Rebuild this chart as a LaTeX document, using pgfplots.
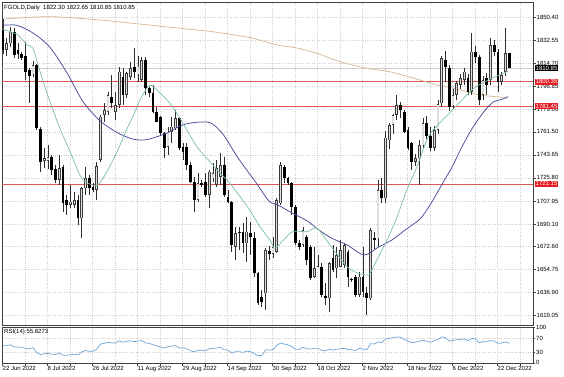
\documentclass[border=0pt]{standalone}
\usepackage{pgfplots}
\pgfplotsset{compat=1.18}
\usepackage{pgfplotstable}
\usepackage{fontspec}
\setmainfont{Liberation Sans}
\setsansfont{Liberation Sans}

\definecolor{bullfill}{RGB}{222,222,222}
\definecolor{bulledge}{RGB}{60,60,60}
\definecolor{wickc}{RGB}{45,45,45}
\definecolor{mafastc}{RGB}{125,190,160}
\definecolor{mamidc}{RGB}{75,75,155}
\definecolor{maslowc}{RGB}{215,185,150}
\definecolor{lvlc}{RGB}{222,85,85}
\definecolor{lvlbox}{RGB}{232,28,36}
\definecolor{gridc}{RGB}{208,208,208}
\definecolor{rsic}{RGB}{110,165,215}
\definecolor{pricec}{RGB}{205,205,205}

\pgfplotstableread{
i O H L C
0 1840 1849 1822 1825
1 1825 1834 1820 1830
2 1830 1843 1827 1839
3 1839 1842 1819 1821
4 1825 1830 1818 1822
5 1821.5 1823.6 1817 1819
6 1820 1831 1802 1808
7 1809 1811 1784 1805
8 1806 1816 1804 1813
9 1813 1814 1763 1764.2
10 1764 1765 1730.6 1738.4
11 1739 1748.7 1733.2 1741
12 1739 1751 1733 1742
13 1742 1743.6 1728 1731.9
14 1733 1735.8 1721.6 1724.2
15 1724.2 1743.6 1720.3 1733.2
16 1734.5 1735.8 1699.7 1706.1
17 1708.7 1712.6 1697.1 1704.8
18 1705 1720.3 1702.2 1707.4
19 1704.8 1715.2 1702.2 1708.7
20 1708.7 1712.6 1689.3 1694.5
21 1694.5 1718.5 1679 1717.7
22 1717.7 1734.5 1712.6 1725.5
23 1725.5 1728 1712.6 1717.7
24 1719 1721.6 1715 1716.4
25 1716.4 1738.4 1708.7 1735
26 1740 1774.5 1738 1773.2
27 1774.5 1783.6 1769.4 1778.4
28 1777.1 1792.6 1774.5 1790
29 1788.7 1805.5 1779.7 1783.6
30 1777.1 1792.6 1770.7 1782.3
31 1782.3 1812 1779.7 1808.1
32 1804.2 1810.7 1782.3 1790
33 1790 1808.1 1787.5 1806.8
34 1804.2 1815.9 1801.7 1810.7
35 1812 1826.2 1802.9 1808.1
36 1806 1820 1800 1812
37 1802 1819.7 1800 1817.2
38 1817.2 1819.7 1790 1795.2
39 1795.2 1796.5 1788.8 1791.3
40 1791.3 1797.8 1775.8 1777.1
41 1777.1 1781 1769 1769.4
42 1773.3 1774 1759 1760.4
43 1760.4 1761.6 1741 1748.7
44 1750 1765.5 1743.6 1761.6
45 1761.6 1773.3 1752.6 1765.5
46 1764.2 1778.4 1762.9 1772
47 1772 1773 1747.4 1748.7
48 1750 1752.6 1739.7 1746.1
49 1750 1752.6 1731.9 1735.8
50 1735.8 1738.4 1721.6 1722.9
51 1722.9 1726.8 1699.7 1708.7
52 1708.7 1729.4 1707.4 1721.6
53 1721.6 1724.2 1719 1720.3
54 1722.9 1729.4 1711.3 1712.6
55 1712.6 1731.9 1702.2 1730.6
56 1725.5 1737.1 1722.9 1729.4
57 1720.3 1739.7 1719 1733.2
58 1726.8 1744.9 1720.3 1735.8
59 1735.8 1742.3 1711.3 1712.6
60 1711.3 1716.5 1706.1 1707.4
61 1707.4 1708 1668.7 1673.9
62 1672.6 1688 1662.2 1682.9
63 1684.2 1688 1670 1682.9
64 1684.2 1690.6 1667.4 1675.2
65 1675.2 1695.8 1660.9 1684.2
66 1682.9 1691.9 1666.1 1680.3
67 1679 1684.2 1649.3 1651.9
68 1651.9 1653.2 1627.4 1628.7
69 1633.8 1639 1626.1 1630
70 1636.4 1671.3 1623.5 1670
71 1669 1673 1662 1667
72 1667 1680 1664 1672
73 1668.6 1710 1667.3 1708.7
74 1706.1 1738.4 1704.8 1735.8
75 1734.5 1735.8 1721.6 1725.5
76 1725.5 1726.8 1720.3 1721.6
77 1721.6 1722.9 1697.1 1703.5
78 1703.5 1704.8 1673.8 1675.2
79 1675.2 1677.7 1670 1672.6
80 1673.8 1688 1672.5 1685.4
81 1680.3 1681.6 1658.3 1662.2
82 1672.5 1673.8 1646.7 1648
83 1649.3 1672.5 1648 1655.7
84 1656 1666.1 1655.7 1657.5
85 1657 1659.6 1633.8 1635.1
86 1634 1644.1 1627.4 1632.5
87 1632.5 1660.9 1622.2 1659.6
88 1663.5 1673.8 1653.1 1654.4
89 1655.7 1672.5 1648 1666.1
90 1657 1677.7 1657 1670
91 1658.3 1675.1 1655.7 1673.8
92 1668.6 1669.9 1641.5 1649.3
93 1647.5 1648 1645.4 1646.7
94 1649.3 1650.6 1633.8 1635.1
95 1635.1 1653.1 1633.8 1649.3
96 1649.3 1672.5 1633.8 1637.7
97 1636.4 1641.5 1619.6 1632.5
98 1632.5 1686.7 1631.2 1685.4
99 1679 1684.1 1670 1677.7
100 1679 1724.2 1672.5 1716.4
101 1716.4 1725.5 1706.1 1710
102 1710 1762 1706 1757
103 1755 1768 1748 1766.8
104 1767 1775 1760 1774.5
105 1774.5 1790 1770.7 1782.3
106 1782.3 1784.9 1772 1778.4
107 1777.1 1778.4 1760.3 1761.6
108 1762.9 1765.5 1747.4 1748.7
109 1752.6 1753.9 1732 1738.4
110 1738.4 1744 1735 1741
111 1741 1755.2 1720.3 1751.3
112 1751 1772 1749 1768
113 1768 1774 1756 1758
114 1758 1765 1747 1749
115 1749 1766 1747 1763
116 1763 1786 1760 1783
117 1783.6 1820 1781 1818.4
118 1817 1824 1800 1812
119 1810.7 1813 1778 1781
120 1782 1795 1779 1790
121 1790 1801 1786 1799
122 1797.8 1806 1795 1803
123 1801.6 1811 1798 1808
124 1803 1806 1790 1792.6
125 1792.6 1837.8 1790 1823.6
126 1823.6 1828 1815 1819.7
127 1819.7 1821 1782 1786.1
128 1790 1805 1786 1801.6
129 1803 1807 1790 1797.8
130 1801.6 1834 1798 1828.7
131 1828.7 1833 1820 1823.6
132 1823.6 1826 1792.6 1800.3
133 1800.3 1808 1798 1805.5
134 1808.1 1841.7 1805 1822.3
135 1822.30 1822.65 1810.85 1810.85
}\ohlc

\pgfplotstableread{
i v
0 1841
2 1839
4.0 1836.5
6.4 1828.8
8.0 1826
9.9 1808
12.5 1785
15.2 1764
17.9 1746
20.5 1728
21.9 1723
25.1 1720
27.7 1730.6
30.4 1746
33.1 1764
35.2 1777
36.5 1786
38.7 1796.5
40.0 1796.5
44.5 1783.6
48.0 1768
51.7 1750
55.2 1738.4
57.9 1729.4
60.5 1721.6
65.3 1703
68.5 1688
71.2 1677.7
72.5 1671.3
74.9 1678
77.3 1684.2
81.1 1684.2
83.7 1686.8
87.2 1673.9
91.7 1657.1
94.7 1652
97.1 1650.6
97.9 1652
99.7 1662.2
102.4 1677.7
105.1 1695.8
107.7 1716.5
110.4 1734.5
113.3 1757
116.0 1767
118.7 1775
125.1 1794
127.7 1799
130.4 1803
134.7 1808.5
}\mafast

\pgfplotstableread{
i v
0 1844
3.7 1844
8 1838
12.5 1827
17.1 1807
21.3 1785
25.9 1770
30.4 1761
34.7 1755.8
38.4 1755.5
43.7 1760.5
47.2 1766
50.5 1768.5
55.2 1768.6
58.7 1759.5
62.5 1742
67.5 1722
70.9 1708
73.3 1704.8
77.3 1698.3
81.1 1692.5
84 1686
87.7 1679
91.7 1674
96.3 1666.1
100 1672
103.7 1677.7
107.2 1685.4
111.2 1694
113.9 1705
117.3 1722
119.7 1734
122.4 1750
125.3 1765
128.5 1778
130.7 1784.5
133.1 1786.7
134.7 1788.7
}\mamid

\pgfplotstableread{
i v
0 1848.8
12.5 1850.7
25.9 1848.1
34.7 1845.5
47.2 1841.7
56 1839
65.9 1834.4
73.1 1828.7
77.9 1826.7
83.7 1822.3
89.9 1815.8
97.1 1810.7
103.2 1808
111.2 1801.6
115.7 1797.8
120.5 1795
127.2 1790
131.7 1788.7
134.4 1787.5
}\maslow

\pgfplotstableread{
i r
0 49
1 50
2 52
3 46
4 46
5 45
6 42
7 41
8 44
9 30
10 25
11 27
12 28
13 26
14 25
15 29
16 23
17 23
18 24
19 26
20 24
21 32
22 36
23 34
24 34
25 40
26 54
27 56
28 59
29 57
30 57
31 63
32 59
33 62
34 63
35 61
36 62
37 64
38 57
39 56
40 52
41 49
42 46
43 43
44 47
45 48
46 50
47 43
48 44
49 41
50 36
51 32
52 37
53 37
54 35
55 41
56 42
57 43
58 45
59 38
60 37
61 29
62 33
63 33
64 31
65 34
66 33
67 27
68 22
69 22
70 38
71 37
72 39
73 50
74 57
75 54
76 52
77 47
78 40
79 39
80 45
81 41
82 40
83 42
84 42
85 37
86 35
87 40
88 37
89 40
90 41
91 42
92 39
93 38
94 36
95 42
96 40
97 38
98 55
99 54
100 60
101 58
102 68
103 70
104 72
105 74
106 73
107 67
108 62
109 58
110 59
111 62
112 65
113 62
114 59
115 63
116 67
117 74
118 72
119 62
120 64
121 66
122 67
123 68
124 63
125 70
126 68
127 58
128 61
129 60
130 64
131 62
132 56
133 57
134 60
135 55.83
}\rsidata

\newcommand{\lblfont}{\fontsize{6}{7}\selectfont}
\pgfplotsset{
  candlepart/.style={only marks, no markers, mark size=0pt, forget plot,
    error bars/.cd, y dir=plus, y explicit, error mark=none},
}

\begin{document}
\begin{tikzpicture}
\useasboundingbox (0,0) rectangle (564pt,376pt);
\begin{axis}[
  at={(2pt,51pt)}, anchor=south west,
  width=531pt, height=323pt, scale only axis,
  xmin=-0.2667, xmax=141.333,
  ymin=1611.85, ymax=1862.05,
  clip=false,
  axis line style={draw=black!75, line width=0.6pt},
  xtick={-0.133,5.867,11.867,17.867,23.867,29.867,35.867,41.867,47.867,53.867,59.867,65.867,71.867,77.867,83.867,89.867,95.867,101.867,107.867,113.867,119.867,125.867,131.867,137.867},
  xticklabels={},
  x tick style={draw=none},
  ytick={1619.05,1636.90,1654.75,1672.60,1690.10,1707.95,1725.80,1743.65,1761.50,1779.00,1796.85,1814.70,1832.55,1850.40},
  yticklabels={1619.05,1636.90,1654.75,1672.60,1690.10,1707.95,1725.80,1743.65,1761.50,1779.00,1796.85,1814.70,1832.55,1850.40},
  ytick pos=right, yticklabel pos=right,
  tick align=outside, major tick length=2.5pt,
  y tick style={black!75, line width=0.5pt},
  yticklabel style={font=\lblfont, anchor=west, inner sep=1pt},
  xmajorgrids, ymajorgrids,
  major grid style={gridc, dash pattern=on 0.6pt off 1.6pt, line width=0.5pt},
]
% level lines
\addplot[pricec, line width=0.8pt, forget plot] coordinates {(-0.2667,1810.85) (141.333,1810.85)};
\addplot[lvlc, line width=0.8pt, forget plot] coordinates {(-0.2667,1800.35) (141.333,1800.35)};
\addplot[lvlc, line width=0.8pt, forget plot] coordinates {(-0.2667,1781.45) (141.333,1781.45)};
\addplot[lvlc, line width=0.8pt, forget plot] coordinates {(-0.2667,1721.15) (141.333,1721.15)};
% slow moving average
\addplot[maslowc, line width=0.75pt, smooth, forget plot] table[x=i, y=v] {\maslow};
% wicks
\addplot[candlepart, error bar style={draw=wickc, line width=0.65pt}]
  table[x=i, y=L, y error expr={\thisrow{H}-\thisrow{L}}] {\ohlc};
% bullish bodies: outline
\addplot[candlepart, error bar style={draw=bulledge, line width=2.6pt}]
  table[x=i, y=O, y error expr={ifthenelse(\thisrow{C}>=\thisrow{O}, max(\thisrow{C}-\thisrow{O},0.7), 0)}] {\ohlc};
% bullish bodies: fill
\addplot[candlepart, error bar style={draw=bullfill, line width=1.3pt}]
  table[x=i, y expr={\thisrow{O}+0.5}, y error expr={ifthenelse(\thisrow{C}-\thisrow{O}>1.2, \thisrow{C}-\thisrow{O}-1.0, 0)}] {\ohlc};
% bearish bodies
\addplot[candlepart, error bar style={draw=black, line width=2.6pt}]
  table[x=i, y=C, y error expr={ifthenelse(\thisrow{C}<\thisrow{O}, max(\thisrow{O}-\thisrow{C},0.7), 0)}] {\ohlc};
% faster moving averages
\addplot[mamidc, line width=0.75pt, smooth, forget plot] table[x=i, y=v] {\mamid};
\addplot[mafastc, line width=0.7pt, smooth, forget plot] table[x=i, y=v] {\mafast};
% header
\node[anchor=north west, font=\lblfont, inner sep=0pt] at (rel axis cs:0,1) [xshift=2pt, yshift=-3pt] {FGOLD,Daily\ \ 1822.30 1822.65 1810.85 1810.85};
% right-hand price boxes
\node[anchor=west, fill=black, text=white, font=\lblfont, inner xsep=1pt, inner ysep=0.8pt] at (axis cs:141.333,1810.85) [xshift=1.5pt] {1810.85};
\node[anchor=west, fill=lvlbox, text=white, font=\lblfont, inner xsep=1pt, inner ysep=0.8pt] at (axis cs:141.333,1800.35) [xshift=1.5pt] {1800.35};
\node[anchor=west, fill=lvlbox, text=white, font=\lblfont, inner xsep=1pt, inner ysep=0.8pt] at (axis cs:141.333,1781.45) [xshift=1.5pt] {1781.45};
\node[anchor=west, fill=lvlbox, text=white, font=\lblfont, inner xsep=1pt, inner ysep=0.8pt] at (axis cs:141.333,1721.15) [xshift=1.5pt] {1721.15};
\end{axis}

\begin{axis}[
  at={(2pt,12.5pt)}, anchor=south west,
  width=531pt, height=36pt, scale only axis,
  xmin=-0.2667, xmax=141.333,
  ymin=0, ymax=100,
  clip=false,
  axis line style={draw=black!75, line width=0.6pt},
  xtick={-0.133,5.867,11.867,17.867,23.867,29.867,35.867,41.867,47.867,53.867,59.867,65.867,71.867,77.867,83.867,89.867,95.867,101.867,107.867,113.867,119.867,125.867,131.867,137.867},
  xticklabels={22 Jun 2022,,8 Jul 2022,,26 Jul 2022,,11 Aug 2022,,29 Aug 2022,,14 Sep 2022,,30 Sep 2022,,18 Oct 2022,,2 Nov 2022,,18 Nov 2022,,6 Dec 2022,,22 Dec 2022,},
  xtick pos=bottom,
  xticklabel style={font=\lblfont, anchor=north west, inner sep=0.5pt, xshift=-0.5pt},
  ytick={0,30,70,100},
  yticklabels={\raisebox{2pt}{0},30,70,\raisebox{-2pt}{100}},
  ytick pos=right, yticklabel pos=right,
  tick align=outside, major tick length=2pt,
  tick style={black!75, line width=0.5pt},
  yticklabel style={font=\lblfont, anchor=west, inner sep=1pt},
  xmajorgrids, ymajorgrids,
  major grid style={gridc, dash pattern=on 0.6pt off 1.6pt, line width=0.5pt},
]
\addplot[rsic, line width=0.7pt, forget plot] table[x=i, y=r] {\rsidata};
\node[anchor=north west, font=\lblfont, inner sep=0pt] at (rel axis cs:0,1) [xshift=2pt, yshift=-1.5pt] {RSI(14) 55.8273};
\end{axis}
\end{tikzpicture}
\end{document}
